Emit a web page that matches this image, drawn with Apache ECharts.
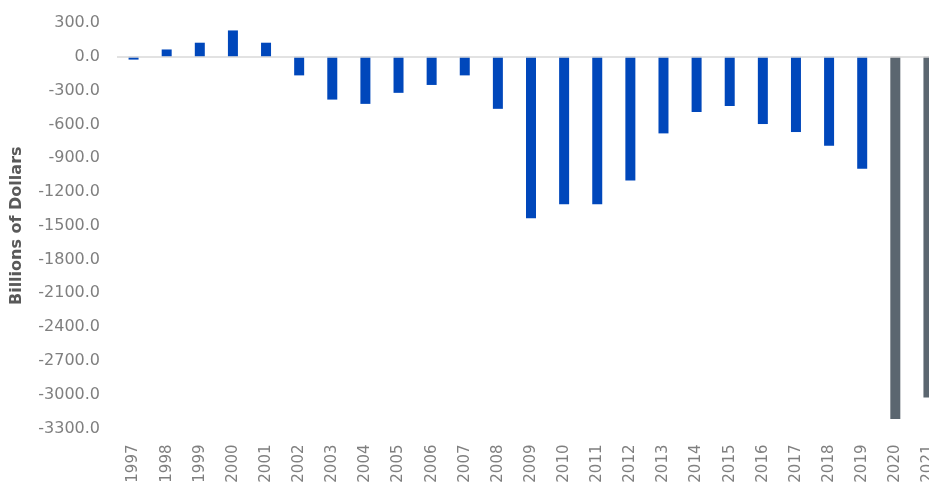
<!DOCTYPE html>
<html>
<head>
<meta charset="utf-8">
<script src="https://cdn.jsdelivr.net/npm/echarts@6/dist/echarts.min.js"></script>
<style>
    html, body { margin: 0; padding: 0; background: #fff; }
    #chart { width: 929px; height: 484px; }
</style>
</head>
<body>
<div id="chart"></div>
<script>
// 数据
const years = ['1997', '1998', '1999', '2000', '2001', '2002', '2003', '2004', '2005', '2006',
    '2007', '2008', '2009', '2010', '2011', '2012', '2013', '2014', '2015', '2016',
    '2017', '2018', '2019', '2020', '2021'];
const balance = [-25, 65, 125, 234, 125, -165, -380, -418, -320, -250,
    -165, -462, -1433, -1310, -1310, -1098, -680, -490, -437, -597,
    -668, -790, -995, -3215, -3025];
const grayYears = ['2020', '2021'];

const colors = {
    blue: '#0047BB',
    gray: '#5B6670',
    label: '#7F7F7F',
    title: '#595959',
    zero: '#D9D9D9'
};

const chart = echarts.init(document.getElementById('chart'));

const option = {
    backgroundColor: '#fff',
    animation: false,
    textStyle: { fontFamily: 'DejaVu Sans, sans-serif' },
    // 右侧故意超出画布，2021 被裁掉一半
    grid: {
        left: 117,
        width: 828,
        top: 23,
        bottom: 55.5,
        outerBoundsMode: 'none'
    },
    xAxis: {
        type: 'category',
        data: years,
        axisLine: { show: false },
        axisTick: { show: false },
        axisLabel: {
            color: colors.label,
            fontSize: 15,
            rotate: 90,
            margin: 16,
            interval: 0
        }
    },
    yAxis: {
        type: 'value',
        min: -3300,
        max: 300,
        interval: 300,
        name: 'Billions of Dollars',
        nameLocation: 'middle',
        nameGap: 92,
        nameTextStyle: {
            color: colors.title,
            fontSize: 16,
            fontWeight: 'bold'
        },
        axisLine: { show: false },
        axisTick: { show: false },
        splitLine: { show: false },
        axisLabel: {
            color: colors.label,
            fontSize: 16,
            margin: 17,
            formatter: (v) => v.toFixed(1)
        }
    },
    series: [{
        type: 'bar',
        data: balance,
        barWidth: 10,
        itemStyle: {
            color: (p) => grayYears.includes(years[p.dataIndex]) ? colors.gray : colors.blue
        },
        markLine: {
            silent: true,
            symbol: 'none',
            label: { show: false },
            lineStyle: { color: colors.zero, type: 'solid', width: 1.5 },
            data: [{ yAxis: 0 }]
        }
    }]
};

chart.setOption(option);
</script>
</body>
</html>
